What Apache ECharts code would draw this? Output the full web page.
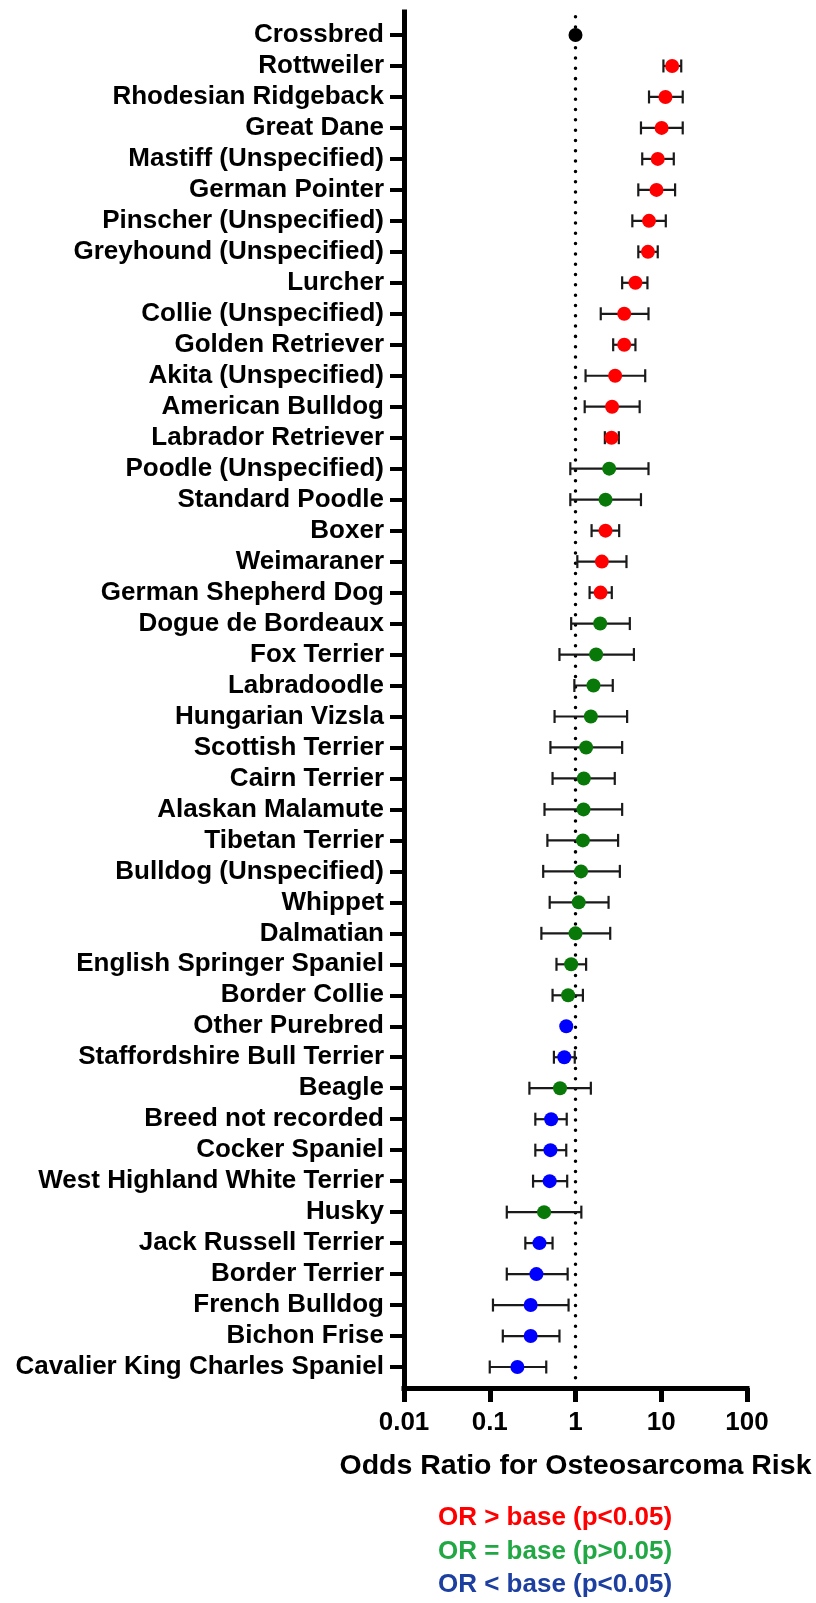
<!DOCTYPE html>
<html>
<head>
<meta charset="utf-8">
<script src="https://cdn.jsdelivr.net/npm/echarts@6/dist/echarts.min.js"></script>
<style>
html,body{margin:0;padding:0;background:#fff;}
#chart{width:816px;height:1603px;}
</style>
</head>
<body>
<div id="chart"></div>
<script>
var categories = [
  'Crossbred','Rottweiler','Rhodesian Ridgeback','Great Dane','Mastiff (Unspecified)',
  'German Pointer','Pinscher (Unspecified)','Greyhound (Unspecified)','Lurcher','Collie (Unspecified)',
  'Golden Retriever','Akita (Unspecified)','American Bulldog','Labrador Retriever','Poodle (Unspecified)',
  'Standard Poodle','Boxer','Weimaraner','German Shepherd Dog','Dogue de Bordeaux',
  'Fox Terrier','Labradoodle','Hungarian Vizsla','Scottish Terrier','Cairn Terrier',
  'Alaskan Malamute','Tibetan Terrier','Bulldog (Unspecified)','Whippet','Dalmatian',
  'English Springer Spaniel','Border Collie','Other Purebred','Staffordshire Bull Terrier','Beagle',
  'Breed not recorded','Cocker Spaniel','West Highland White Terrier','Husky','Jack Russell Terrier',
  'Border Terrier','French Bulldog','Bichon Frise','Cavalier King Charles Spaniel'
];
var oddsRatio = [1, 13.4, 11.2, 10.1, 9.1, 8.8, 7.2, 7.0, 5.0, 3.7,
  3.7, 2.9, 2.67, 2.63, 2.47, 2.24, 2.24, 2.03, 1.96, 1.94,
  1.74, 1.62, 1.51, 1.33, 1.25, 1.24, 1.22, 1.16, 1.09, 1.0,
  0.89, 0.82, 0.78, 0.74, 0.66, 0.52, 0.51, 0.50, 0.43, 0.38,
  0.35, 0.30, 0.30, 0.21];
var ciLower = [null, 10.6, 7.2, 5.8, 6.0, 5.4, 4.6, 5.4, 3.5, 1.97,
  2.75, 1.31, 1.28, 2.2, 0.87, 0.87, 1.54, 1.05, 1.46, 0.89,
  0.65, 0.97, 0.57, 0.51, 0.54, 0.435, 0.47, 0.42, 0.5, 0.40,
  0.6, 0.54, null, 0.56, 0.29, 0.34, 0.34, 0.32, 0.158, 0.26,
  0.158, 0.109, 0.142, 0.1];
var ciUpper = [null, 17.1, 17.8, 17.8, 14.0, 14.5, 11.3, 9.1, 6.9, 7.1,
  5.0, 6.5, 5.6, 3.2, 7.1, 5.8, 3.23, 3.93, 2.65, 4.3,
  4.8, 2.72, 4.0, 3.5, 2.87, 3.5, 3.14, 3.29, 2.43, 2.54,
  1.33, 1.22, null, 0.98, 1.51, 0.79, 0.78, 0.80, 1.17, 0.54,
  0.81, 0.83, 0.65, 0.456];
var groups = ['base','high','high','high','high','high','high','high','high','high',
  'high','high','high','high','same','same','high','high','high','same',
  'same','same','same','same','same','same','same','same','same','same',
  'same','same','low','low','same','low','low','low','same','low',
  'low','low','low','low'];
var xTicks = [0.01, 0.1, 1, 10, 100];
var baseline = 1;
var axisTitle = 'Odds Ratio for Osteosarcoma Risk';
var legendTexts = ['OR > base (p<0.05)', 'OR = base (p>0.05)', 'OR < base (p<0.05)'];

var dotColors = {base:'#000000', high:'#ff0000', same:'#087808', low:'#0000ff'};
var legendColors = ['#ff0000', '#22a745', '#1c3fa0'];
var FONT = "'Liberation Sans', Arial, Helvetica, sans-serif";

var chart = echarts.init(document.getElementById('chart'), null, {renderer:'canvas'});

var pointData = categories.map(function(c, i){
  return {value:[oddsRatio[i], c], itemStyle:{color:dotColors[groups[i]], opacity:1}};
});
var ciData = [];
categories.forEach(function(c, i){
  if (ciLower[i] != null) ciData.push([ciLower[i], ciUpper[i], c]);
});

var gridL = 404, gridR = 816 - 747;

var option = {
  animation:false,
  backgroundColor:'#fff',
  grid:[
    {left:gridL, right:gridR, top:12, bottom:1603-1388},
    {left:gridL, right:gridR, top:19.5, bottom:1603-1382.5}
  ],
  xAxis:[
    {type:'log', gridIndex:0, min:0.01, max:100, logBase:10,
     axisLine:{show:true, lineStyle:{color:'#000', width:5, cap:'square'}},
     axisTick:{show:true, length:14, lineStyle:{color:'#000', width:5}},
     axisLabel:{show:true, margin:22, color:'#000', fontSize:26, fontWeight:'bold', fontFamily:FONT,
       formatter:function(v){ return xTicks.some(function(t){return Math.abs(t-v)<1e-9;}) ? String(+(+v).toPrecision(6)) : ''; }},
     splitLine:{show:false}, minorTick:{show:false},
     name:axisTitle, nameLocation:'middle', nameGap:64,
     nameTextStyle:{color:'#000', fontSize:28.5, fontWeight:'bold', fontFamily:FONT}
    },
    {type:'log', gridIndex:1, min:0.01, max:100, logBase:10, show:false}
  ],
  yAxis:[
    {type:'value', gridIndex:0, min:0, max:1,
     axisLine:{show:true, lineStyle:{color:'#000', width:5, cap:'square'}},
     axisTick:{show:false}, axisLabel:{show:false}, splitLine:{show:false}},
    {type:'category', gridIndex:1, data:categories, inverse:true,
     axisLine:{show:false},
     axisTick:{show:true, alignWithLabel:true, length:14, lineStyle:{color:'#000', width:4}},
     axisLabel:{show:true, margin:20, color:'#000', fontSize:26, fontWeight:'bold', fontFamily:FONT, interval:0},
     splitLine:{show:false}}
  ],
  series:[
    {type:'line', xAxisIndex:0, yAxisIndex:0, data:[[baseline,0],[baseline,1]],
     symbol:'none', silent:true, z:1,
     lineStyle:{color:'#000', width:3.5, type:[0.01, 10.3], cap:'round'}},
    {type:'custom', xAxisIndex:1, yAxisIndex:1, data:ciData, z:2,
     encode:{x:[0,1], y:2},
     renderItem:function(params, api){
       var p1 = api.coord([api.value(0), api.value(2)]);
       var p2 = api.coord([api.value(1), api.value(2)]);
       var h = 6.5;
       var st = {stroke:'#1a1a1a', lineWidth:2.2};
       return {type:'group', children:[
         {type:'line', shape:{x1:p1[0], y1:p1[1], x2:p2[0], y2:p2[1]}, style:st},
         {type:'line', shape:{x1:p1[0], y1:p1[1]-h, x2:p1[0], y2:p1[1]+h}, style:st},
         {type:'line', shape:{x1:p2[0], y1:p2[1]-h, x2:p2[0], y2:p2[1]+h}, style:st}
       ]};
     }},
    {type:'scatter', xAxisIndex:1, yAxisIndex:1, data:pointData, symbol:'circle', symbolSize:14, z:3,
     itemStyle:{opacity:1}}
  ],
  graphic: legendTexts.map(function(t, i){
    return {type:'text', x:555, y:1518 + i*33.5,
      style:{text:t, fill:legendColors[i], font:'bold 26px ' + FONT, align:'center', verticalAlign:'middle'}};
  })
};
chart.setOption(option);
</script>
</body>
</html>
